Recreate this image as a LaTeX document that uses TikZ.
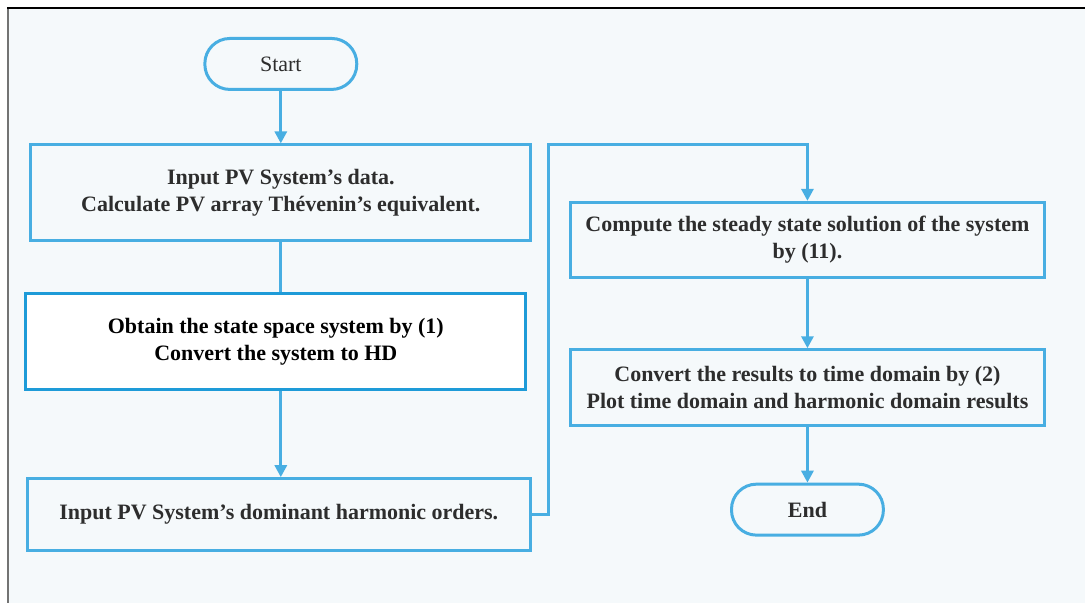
\documentclass[tikz,border=0pt]{standalone}
\usepackage{fontspec}
\setmainfont{Liberation Serif}
\usetikzlibrary{arrows.meta}
\definecolor{flowblue}{RGB}{72,174,226}
\definecolor{flowdark}{RGB}{30,155,216}
\definecolor{paper}{RGB}{245,249,251}
\definecolor{ink}{RGB}{45,45,45}
\begin{document}
\begin{tikzpicture}[
  x=1pt, y=-1pt,
  box/.style={rectangle,draw=flowblue,line width=3pt,fill=paper,text=ink,
    font=\fontsize{22}{27}\selectfont\bfseries,align=center,inner sep=0pt},
  term/.style={box,rounded corners=25pt,minimum width=152pt,minimum height=51pt},
  flow/.style={draw=flowblue,line width=3pt,-{Triangle[width=12pt,length=12pt]}}
]
% page and frame
\fill[white] (0,0) rectangle (1086,603);
\fill[paper] (8,8) rectangle (1086,603);
\draw[black!55,line width=1.5pt] (8,8) -- (8,603);
\draw[black,line width=1.5pt] (7.25,8) -- (1086,8);
\useasboundingbox (0,0) rectangle (1086,603);

% left column
\node[term,font=\fontsize{22}{27}\selectfont] (start) at (281,64) {Start};
\node[box,minimum width=500pt,minimum height=96pt] (data) at (281,193)
  {Input PV System’s data.\\ Calculate PV array Thévenin’s equivalent.};
\node[box,draw=flowdark,fill=white,text=black,minimum width=500pt,minimum height=96pt]
  (hd) at (276,342) {Obtain the state space system by (1)\\ Convert the system to HD};
\node[box,minimum width=503pt,minimum height=72pt] (orders) at (279,515)
  {Input PV System’s dominant harmonic orders.};

% right column
\node[box,minimum width=475pt,minimum height=75pt] (steady) at (808,240)
  {Compute the steady state solution of the system\\ by (11).};
\node[box,minimum width=475pt,minimum height=76pt] (result) at (808,388)
  {Convert the results to time domain by (2)\\ Plot time domain and harmonic domain results};
\node[term] (end) at (808,510) {End};

\coordinate (turn) at (549,145);

% connectors
\draw[flow] (start) -- (data);
\draw[draw=flowblue,line width=3pt] (data) -- (data.south |- hd.north);
\draw[flow] (data.south |- hd.south) -- (data.south |- orders.north);
\draw[flow] (orders.east) -| (turn) -| (steady.north);
\draw[flow] (steady) -- (result);
\draw[flow] (result) -- (end);
\end{tikzpicture}
\end{document}
